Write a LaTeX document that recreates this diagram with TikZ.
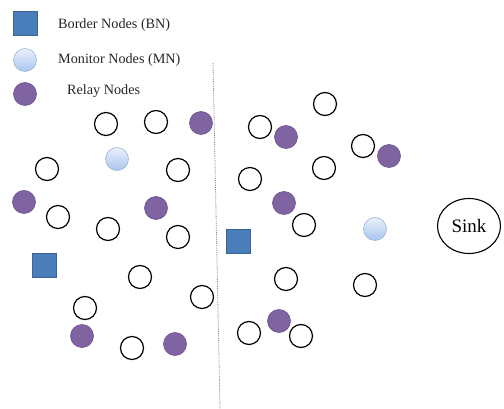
\documentclass[tikz,border=0pt]{standalone}
\usepackage{fontspec}
\setmainfont{Liberation Serif}
\usetikzlibrary{shapes.geometric}
\definecolor{bnfill}{HTML}{4A7EBB}
\definecolor{bndraw}{HTML}{3A6590}
\definecolor{rnfill}{HTML}{8064A2}
\definecolor{rndraw}{HTML}{6A5290}
\definecolor{mntop}{HTML}{EAF0FB}
\definecolor{mnbot}{HTML}{A9C5EE}
\definecolor{mndraw}{HTML}{9DB6DA}
\tikzset{
  open/.style={circle, draw=black, line width=1.2pt, fill=white, minimum size=23pt, inner sep=0pt},
  relay/.style={circle, draw=rndraw, line width=0.6pt, fill=rnfill, minimum size=23pt, inner sep=0pt},
  monitor/.style={circle, draw=mndraw, line width=0.6pt, top color=mntop, bottom color=mnbot, minimum size=23pt, inner sep=0pt},
  border/.style={rectangle, draw=bndraw, line width=0.7pt, fill=bnfill, minimum size=24pt, inner sep=0pt},
  legtext/.style={anchor=west, inner sep=0pt, font=\fontsize{14.2}{16}\selectfont, text=black!85},
  sinknode/.style={ellipse, draw=black, line width=1.1pt, minimum width=63pt, minimum height=55pt, inner sep=0pt, font=\fontsize{19}{22}\selectfont}
}
\begin{document}
\begin{tikzpicture}[x=1pt,y=-1pt]
\useasboundingbox (0,0) rectangle (504,409);
% legend
\node[border] (lbn) at (25,23) {};
\node[legtext] (tbn) at (58,25) {Border Nodes (BN)};
\node[monitor] (lmn) at (25,60) {};
\node[legtext] (tmn) at (58,60) {Monitor Nodes (MN)};
\node[relay] (lrn) at (25,94) {};
\node[legtext] (trn) at (67,91) {Relay Nodes};
% divider
\coordinate (dtop) at (213,63);
\coordinate (dbot) at (220,409);
\draw[gray, line width=0.8pt, densely dotted] (dtop) -- (dbot);
% left side
\node[open] (a1) at (106,124) {};
\node[open] (a2) at (156,122) {};
\node[relay] (a3) at (201,123) {};
\node[monitor] (a4) at (117,159) {};
\node[open] (a5) at (47,169) {};
\node[open] (a6) at (178,170) {};
\node[relay] (a7) at (24,202) {};
\node[open] (a8) at (58,217) {};
\node[relay] (a9) at (156,208) {};
\node[open] (a10) at (108,229) {};
\node[open] (a11) at (178,237) {};
\node[border] (a12) at (44,265) {};
\node[open] (a13) at (140,277) {};
\node[open] (a14) at (202,297) {};
\node[open] (a15) at (85,308) {};
\node[relay] (a16) at (82,336) {};
\node[open] (a17) at (132,348) {};
\node[relay] (a18) at (175,344) {};
% right side
\node[open] (b1) at (325,104) {};
\node[open] (b2) at (260,127) {};
\node[relay] (b3) at (286,137) {};
\node[open] (b4) at (363,146) {};
\node[relay] (b5) at (389,156) {};
\node[open] (b6) at (324,168) {};
\node[open] (b7) at (250,179) {};
\node[relay] (b8) at (284,203) {};
\node[open] (b9) at (304,225) {};
\node[monitor] (b10) at (375,229) {};
\node[border] (b11) at (238,241) {};
\node[open] (b12) at (286,279) {};
\node[open] (b13) at (365,285) {};
\node[open] (b15) at (249,333) {};
\node[relay] (b14) at (279,321) {};
\node[open] (b16) at (301,336) {};
% sink
\node[sinknode] (sink) at (469,226) {Sink};
\end{tikzpicture}
\end{document}
